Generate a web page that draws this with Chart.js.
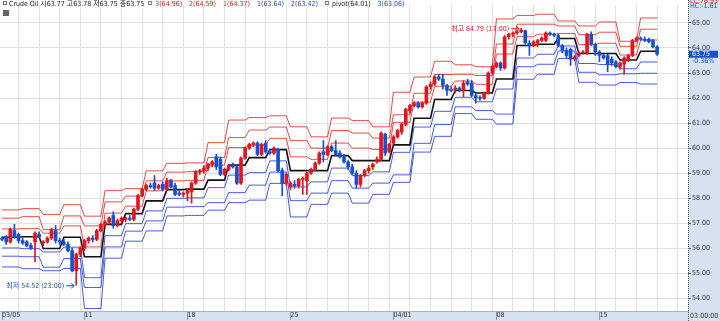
<!DOCTYPE html>
<html>
<head>
<meta charset="utf-8">
<script src="https://cdn.jsdelivr.net/npm/chart.js@4.4.1/dist/chart.umd.min.js"></script>
<style>
  html, body { margin: 0; padding: 0; background: #fff; }
</style>
</head>
<body>
<canvas id="chart" width="720" height="321"></canvas>
<script>
// trading days shown, 5 candles per day
const dayLabels = [
  '03/05','03/06','03/07','03/08',
  '03/11','03/12','03/13','03/14','03/15',
  '03/18','03/19','03/20','03/21','03/22',
  '03/25','03/26','03/27','03/28','03/29',
  '04/01','04/02','04/03','04/04','04/05',
  '04/08','04/09','04/10','04/11','04/12',
  '04/15','04/16','04/17'
];
const xTickDays = ['03/05','03/11','03/18','03/25','04/01','04/08','04/15'];
const xTickText = ['03/05','11','18','25','04/01','08','15'];
const yTicks = [54,55,56,57,58,59,60,61,62,63,64,65];

// [open, high, low, close]
const candles = [
  [56.40,56.45,56.30,56.35],[56.45,56.50,56.15,56.25],[56.25,56.80,56.20,56.75],[56.70,56.95,56.40,56.45],[56.55,56.60,56.20,56.30],
  [56.30,56.40,56.15,56.20],[56.25,56.30,56.05,56.10],[56.10,56.20,55.95,56.00],[56.25,56.65,55.45,56.60],[56.55,56.65,56.40,56.45],
  [56.20,56.30,56.10,56.25],[56.25,56.45,56.20,56.40],[56.40,56.80,56.35,56.75],[56.70,56.90,56.20,56.30],[56.30,56.40,56.15,56.25],
  [56.25,56.35,56.10,56.15],[56.15,56.25,55.85,55.90],[55.90,56.00,55.05,55.10],[55.10,55.80,54.52,55.75],[55.75,56.05,55.65,56.00],
  [56.00,56.35,55.90,56.30],[56.30,56.45,56.20,56.40],[56.40,56.50,56.25,56.35],[56.35,56.75,56.30,56.70],[56.70,57.00,56.65,56.95],
  [56.95,57.10,56.85,57.05],[57.05,57.25,56.95,57.20],[57.30,57.45,56.80,56.90],[56.90,57.15,56.85,57.10],[57.10,57.25,57.00,57.20],
  [57.15,57.25,57.05,57.20],[57.20,57.30,57.10,57.15],[57.15,57.60,57.10,57.55],[57.55,58.15,57.50,58.10],[58.10,58.40,58.05,58.35],
  [58.35,58.55,58.30,58.50],[58.50,58.60,58.40,58.45],[58.60,58.90,58.30,58.40],[58.40,58.55,58.35,58.50],[58.55,58.65,58.30,58.35],
  [58.35,58.80,58.30,58.70],[58.70,58.75,58.40,58.45],[58.50,58.60,58.10,58.15],[58.20,58.30,58.10,58.15],[58.15,58.25,58.05,58.20],
  [58.20,58.35,57.90,58.30],[58.25,58.65,57.80,58.60],[58.60,59.10,58.55,59.05],[59.05,59.15,58.95,59.10],[59.10,59.30,59.00,59.20],
  [59.20,59.40,59.10,59.35],[59.35,59.50,59.25,59.45],[59.65,59.75,59.15,59.25],[59.55,59.65,58.90,58.95],[58.95,59.20,58.90,59.15],
  [59.15,59.35,59.10,59.30],[59.30,59.40,59.20,59.25],[59.25,59.30,58.55,58.60],[58.60,59.65,58.55,59.60],[59.60,60.05,59.55,60.00],
  [60.00,60.20,59.95,60.15],[60.15,60.25,60.05,60.20],[60.20,60.25,59.70,59.75],[59.75,60.20,59.70,60.15],[60.20,60.30,59.80,59.85],
  [59.85,59.95,59.75,59.80],[59.80,60.05,59.75,60.00],[59.95,60.00,59.05,59.10],[59.10,59.20,58.10,58.60],[58.60,59.00,58.50,58.95],
  [58.45,58.65,58.35,58.60],[58.55,58.70,58.40,58.50],[58.50,58.80,58.40,58.75],[58.75,58.85,58.15,58.80],[58.70,59.05,58.15,59.00],
  [59.00,59.20,58.95,59.15],[59.15,59.45,59.10,59.40],[59.40,59.85,59.35,59.80],[59.85,60.30,59.45,59.75],[59.75,60.10,59.70,60.05],
  [60.05,60.10,59.85,59.90],[59.90,60.30,59.70,59.75],[59.80,59.90,59.60,59.65],[59.65,59.75,59.40,59.45],[59.45,59.50,59.15,59.25],
  [59.25,59.35,58.95,59.00],[59.00,59.10,58.40,58.55],[58.55,58.95,58.45,58.90],[58.90,59.15,58.85,59.10],[59.10,59.30,59.00,59.20],
  [59.25,59.40,59.15,59.35],[59.45,59.65,59.40,59.55],[59.55,60.65,59.50,60.60],[60.55,60.60,59.70,59.80],[59.85,60.20,59.80,60.15],
  [60.20,60.50,60.15,60.45],[60.45,60.75,60.40,60.70],[60.65,61.00,60.55,60.95],[60.95,61.60,60.90,61.55],[61.50,61.75,61.40,61.70],
  [61.70,61.85,61.65,61.80],[61.80,61.85,61.60,61.65],[61.65,61.85,61.60,61.80],[61.80,62.50,61.75,62.45],[62.45,62.65,62.35,62.55],
  [62.55,62.90,62.50,62.85],[62.85,62.95,62.70,62.75],[62.75,62.95,62.35,62.50],[62.50,62.55,62.10,62.30],[62.35,62.45,62.25,62.30],
  [62.30,62.50,62.20,62.40],[62.40,62.45,62.25,62.30],[62.30,62.70,62.05,62.60],[62.65,62.75,62.50,62.55],[62.60,62.70,62.05,62.10],
  [62.10,62.20,61.80,62.00],[62.00,62.10,61.90,61.98],[61.98,62.25,61.95,62.20],[62.20,63.05,62.15,63.00],[63.00,63.30,62.95,63.25],
  [63.25,63.45,63.20,63.40],[63.40,63.45,63.10,63.20],[63.20,64.50,63.15,64.45],[64.45,64.60,64.35,64.55],[64.55,64.65,64.45,64.60],
  [64.60,64.70,64.55,64.65],[64.65,64.79,64.60,64.72],[64.70,64.72,64.15,64.20],[64.20,64.30,63.70,64.10],[64.10,64.30,64.05,64.25],
  [64.20,64.35,64.05,64.30],[64.30,64.45,64.25,64.40],[64.30,64.65,64.25,64.60],[64.60,64.65,64.50,64.55],[64.55,64.60,64.45,64.50],
  [64.50,64.55,64.05,64.10],[64.10,64.15,63.80,63.90],[63.90,64.00,63.60,63.70],[63.95,64.00,63.30,63.55],[63.55,63.70,63.50,63.65],
  [63.70,63.85,63.65,63.80],[63.80,63.90,63.75,63.85],[63.80,64.60,63.75,64.55],[64.55,64.65,64.10,64.15],[64.15,64.20,63.70,63.85],
  [63.85,63.90,63.45,63.70],[63.70,63.75,63.55,63.60],[63.70,63.75,63.05,63.35],[63.55,63.65,63.30,63.40],[63.45,63.50,63.20,63.25],
  [63.25,63.45,63.15,63.40],[63.35,63.65,62.95,63.60],[63.50,63.75,63.45,63.70],[63.70,64.35,63.65,64.30],[64.30,64.45,64.25,64.40],
  [64.40,64.45,64.30,64.35],[64.35,64.45,64.25,64.30],[64.35,64.40,64.20,64.25],[64.30,64.35,64.00,64.05],[64.05,64.10,63.70,63.75]
];

// daily pivot levels, one value per trading day
const r3    = [57.53,57.58,57.35,57.74,57.28,58.30,58.38,59.09,59.39,59.41,60.22,61.12,61.22,61.29,60.85,60.45,61.20,61.10,60.85,62.23,62.84,63.47,63.33,63.25,65.16,65.30,65.35,65.08,64.88,65.04,64.27,65.20];
const r2    = [57.20,57.26,56.74,57.29,56.89,57.85,58.08,58.69,59.04,59.06,59.62,60.42,60.72,60.84,60.30,60.00,60.70,60.60,60.40,61.33,62.19,62.94,62.95,62.90,64.16,64.95,64.95,64.88,64.53,64.63,64.07,64.75];
const r1    = [56.77,56.78,56.60,56.89,56.05,57.40,57.68,58.29,58.69,58.71,59.32,60.02,60.12,60.39,59.65,59.55,60.20,60.00,59.95,61.03,61.84,62.47,62.68,62.55,63.76,64.45,64.55,64.58,64.13,64.19,63.72,64.32];
const pivot = [56.44,56.46,55.99,56.44,55.66,56.95,57.38,57.89,58.34,58.36,58.72,59.32,59.62,59.94,59.10,59.10,59.70,59.50,59.50,60.13,61.19,61.94,62.30,62.20,62.76,64.10,64.15,64.38,63.78,63.78,63.52,63.87];
const s1    = [56.01,55.98,55.85,56.04,54.82,56.50,56.98,57.49,57.99,58.01,58.42,58.92,59.02,59.49,58.45,58.65,59.20,58.90,59.05,59.83,60.84,61.47,62.03,61.85,62.36,63.60,63.75,64.08,63.38,63.34,63.17,63.44];
const s2    = [55.68,55.66,55.24,55.59,54.43,56.05,56.68,57.09,57.64,57.66,57.82,58.22,58.52,59.04,57.90,58.20,58.70,58.40,58.60,58.93,60.19,60.94,61.65,61.50,61.36,63.25,63.35,63.88,63.03,62.93,62.97,62.99];
const s3    = [55.25,55.18,55.10,55.19,53.59,55.60,56.28,56.69,57.29,57.31,57.52,57.82,57.92,58.59,57.25,57.75,58.20,57.80,58.15,58.63,59.84,60.47,61.38,61.15,60.96,62.75,62.95,63.58,62.63,62.52,62.62,62.56];

// header / side texts
const headerQuote = 'Crude Oil 시63.77 고63.78 저63.75 종63.75';
const headerLevels = [['3(64.96)','r'],['2(64.59)','r'],['1(64.37)','r'],['1(63.64)','b'],['2(63.42)','b'],['pivot(64.01)','k'],['3(63.06)','b']];
const extremeTimes = ['17:00', '23:00'];
const changeText = '-0.36%';
const sideTop = ['LC:76.93', 'HC:-1.61'];
const cursorTime = '03:00:00';

const PER_DAY = 5;
const SLOTS = 167;
const RED = '#e3151d';
const BLUE = '#1550d0';
const LINE_RED = 'rgba(230,40,40,0.85)';
const LINE_BLUE = 'rgba(40,60,225,0.85)';
const GRID = '#e0e0e0';
const PANEL = '#d6e2ef';
const FONT = "'Liberation Sans Narrow', 'DejaVu Sans Condensed', 'Noto Sans CJK KR', sans-serif";

const labels = Array.from({ length: SLOTS }, (_, i) =>
  i < candles.length ? dayLabels[Math.floor(i / PER_DAY)] : '');

const isLabelTick = i => i % PER_DAY === 0 && xTickDays.indexOf(dayLabels[i / PER_DAY]) >= 0;

const perCandle = arr => labels.map((_, i) => i < candles.length ? arr[Math.floor(i / PER_DAY)] : null);

function levelLine(arr, color, width) {
  return {
    type: 'line',
    data: perCandle(arr),
    borderColor: color,
    borderWidth: width,
    pointRadius: 0,
    tension: 0,
    order: 5
  };
}

const panels = {
  id: 'panels',
  beforeDraw(chart) {
    const { ctx, chartArea: a, width, height } = chart;
    ctx.save();
    ctx.fillStyle = PANEL;
    ctx.fillRect(a.right, 0, width - a.right, height);
    ctx.fillRect(0, a.bottom, width, height - a.bottom);
    ctx.restore();
  }
};

const notes = {
  id: 'notes',
  afterDraw(chart) {
    const { ctx, chartArea: a, scales: { x, y }, width, height } = chart;
    ctx.save();

    // dashed price-axis line
    ctx.strokeStyle = '#555';
    ctx.lineWidth = 1;
    ctx.setLineDash([1, 1]);
    ctx.beginPath();
    ctx.moveTo(Math.round(a.right) + 0.5, 0);
    ctx.lineTo(Math.round(a.right) + 0.5, height);
    ctx.stroke();
    ctx.setLineDash([]);

    ctx.font = '7px ' + FONT;
    ctx.textBaseline = 'middle';

    // header line
    let hx = 3;
    ctx.strokeStyle = '#777';
    ctx.strokeRect(hx + 0.5, 1.5, 3, 3);
    hx += 6;
    ctx.fillStyle = '#222';
    ctx.textAlign = 'left';
    ctx.fillText(headerQuote, hx, 4);
    hx += ctx.measureText(headerQuote).width + 4;
    const col = { r: RED, b: BLUE, k: '#222' };
    headerLevels.forEach(([t, c], i) => {
      if (i === 0 || i === 5) {
        ctx.strokeRect(hx + 0.5, 1.5, 3, 3);
        hx += 7;
      }
      ctx.fillStyle = col[c];
      ctx.fillText(t, hx, 4);
      hx += ctx.measureText(t).width + 7;
    });
    ctx.fillStyle = '#666';
    ctx.fillRect(3, 10, 6, 6);

    // highest / lowest marks
    let hi = 0, lo = 0;
    candles.forEach((c, i) => {
      if (c[1] > candles[hi][1]) hi = i;
      if (c[2] < candles[lo][2]) lo = i;
    });
    const mark = (idx, val, label, color) => {
      const ex = x.getPixelForValue(idx) - 2;
      const ey = y.getPixelForValue(val);
      ctx.strokeStyle = color;
      ctx.fillStyle = color;
      ctx.lineWidth = 1;
      ctx.beginPath();
      ctx.moveTo(ex - 8, ey + 0.5);
      ctx.lineTo(ex, ey + 0.5);
      ctx.moveTo(ex - 3, ey - 2);
      ctx.lineTo(ex, ey + 0.5);
      ctx.lineTo(ex - 3, ey + 3);
      ctx.stroke();
      ctx.textAlign = 'right';
      ctx.fillText(label, ex - 10, ey + 0.5);
    };
    mark(hi, candles[hi][1], '최고 ' + candles[hi][1].toFixed(2) + ' (' + extremeTimes[0] + ')', RED);
    mark(lo, candles[lo][2], '최저 ' + candles[lo][2].toFixed(2) + ' (' + extremeTimes[1] + ')', BLUE);

    // right axis extras
    const last = candles[candles.length - 1][3];
    const py = y.getPixelForValue(last);
    ctx.fillStyle = BLUE;
    ctx.fillRect(a.right + 1, py - 3.5, width - a.right - 3, 7);
    ctx.fillStyle = '#fff';
    ctx.textAlign = 'left';
    ctx.fillText(last.toFixed(2), a.right + 4, py);
    ctx.fillStyle = BLUE;
    ctx.fillText(changeText, a.right + 4, py + 7);
    ctx.fillStyle = RED;
    ctx.fillText(sideTop[0], a.right + 2, 1);
    ctx.fillStyle = BLUE;
    ctx.fillText(sideTop[1], a.right + 2, 6);
    ctx.fillStyle = '#333';
    ctx.fillText(cursorTime, a.right + 2, a.bottom + (height - a.bottom) / 2 + 0.5);
    ctx.restore();
  }
};

new Chart(document.getElementById('chart'), {
  type: 'bar',
  data: {
    labels: labels,
    datasets: [
      {
        data: candles.map(c => [c[0], c[3]]),
        backgroundColor: candles.map(c => c[3] >= c[0] ? RED : BLUE),
        barThickness: 3,
        minBarLength: 1,
        grouped: false,
        order: 1
      },
      {
        data: candles.map(c => [c[2], c[1]]),
        backgroundColor: candles.map(c => c[3] >= c[0] ? RED : BLUE),
        barThickness: 1,
        grouped: false,
        order: 2
      },
      levelLine(r3, LINE_RED, 1),
      levelLine(r2, LINE_RED, 1),
      levelLine(r1, LINE_RED, 1),
      levelLine(pivot, '#111', 1.6),
      levelLine(s1, LINE_BLUE, 1),
      levelLine(s2, LINE_BLUE, 1),
      levelLine(s3, LINE_BLUE, 1)
    ]
  },
  options: {
    responsive: false,
    animation: false,
    devicePixelRatio: 1,
    layout: { padding: 0 },
    plugins: { legend: { display: false }, tooltip: { enabled: false } },
    scales: {
      x: {
        type: 'category',
        offset: true,
        afterFit: s => { s.height = 10; },
        grid: {
          offset: false,
          color: ctx => (ctx.index % PER_DAY === PER_DAY - 1) ? GRID : 'rgba(0,0,0,0)',
          tickColor: ctx => isLabelTick(ctx.index) ? '#8f9bab' : 'rgba(0,0,0,0)',
          tickLength: 9
        },
        border: { color: '#a9b3c0' },
        ticks: {
          autoSkip: false,
          maxRotation: 0,
          minRotation: 0,
          align: 'start',
          padding: -9,
          color: '#333',
          font: { family: FONT, size: 7 },
          callback: (v, i) => isLabelTick(i) ? xTickText[xTickDays.indexOf(dayLabels[i / PER_DAY])] : ''
        }
      },
      y: {
        position: 'right',
        min: 53.49,
        max: 65.71,
        afterBuildTicks: s => { s.ticks = yTicks.map(v => ({ value: v })); },
        afterFit: s => { s.width = 32; },
        grid: { color: GRID, tickColor: '#666', tickLength: 3 },
        border: { display: false },
        ticks: {
          padding: 1,
          color: '#333',
          font: { family: FONT, size: 7 },
          callback: v => v.toFixed(2)
        }
      }
    }
  },
  plugins: [panels, notes]
});
</script>
</body>
</html>
